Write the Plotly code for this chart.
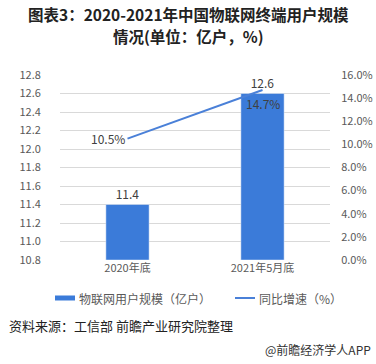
import plotly.graph_objects as go

categories = ["2020年底", "2021年5月底"]
users = [11.4, 12.6]
growth = [10.5, 14.7]
left_ticks = [10.8, 11.0, 11.2, 11.4, 11.6, 11.8, 12.0, 12.2, 12.4, 12.6, 12.8]
right_ticks = [0, 2, 4, 6, 8, 10, 12, 14, 16]

FONT = "Noto Sans CJK SC"
GRAY = "#595959"
BAR_C = "#3b7bd9"
LINE_C = "#4a80d8"
fig = go.Figure()
fig.add_trace(go.Bar(
    x=categories, y=[u - 10.8 for u in users], base=10.8,
    name="物联网用户规模（亿户）", marker_color=BAR_C, width=0.32,
    text=[f"{u:.1f}" for u in users], textposition="outside",
    textfont=dict(size=12, color="#404040", family=FONT), cliponaxis=False,
))
fig.add_trace(go.Scatter(
    x=categories, y=growth, yaxis="y2", mode="lines",
    name="同比增速（%）", line=dict(color=LINE_C, width=2), cliponaxis=False,
))
# line labels
fig.add_annotation(x=categories[0], y=growth[0], xref="x", yref="y2", text=f"{growth[0]:.1f}%",
                   showarrow=False, xanchor="right", xshift=-1, yanchor="middle",
                   font=dict(size=12, color="#404040", family=FONT))
fig.add_annotation(x=categories[1], y=growth[1], xref="x", yref="y2", text=f"{growth[1]:.1f}%",
                   showarrow=False, xanchor="center", yanchor="middle", yshift=-13,
                   font=dict(size=12, color="#404040", family=FONT))
fig.update_layout(
    width=376, height=364, margin=dict(l=60, r=46, t=75, b=104, autoexpand=False),
    paper_bgcolor="white", plot_bgcolor="white",
    font=dict(family=FONT, size=11, color=GRAY),
    showlegend=False,
    xaxis=dict(showgrid=False, showline=False, ticks="", tickfont=dict(size=11, color=GRAY), automargin=False),
    yaxis=dict(range=[10.8, 12.8], tickvals=left_ticks, ticktext=[f"{t:.1f}" for t in left_ticks],
               gridcolor="#d9d9d9", zeroline=False, tickfont=dict(size=11, color=GRAY),
               ticklen=16, tickcolor="white", ticks="outside", automargin=False),
    yaxis2=dict(range=[0, 16], overlaying="y", side="right", tickvals=right_ticks,
                ticktext=[f"{t:.1f}%" for t in right_ticks], showgrid=False, zeroline=False,
                tickfont=dict(size=11, color=GRAY), ticks="outside", ticklen=8, tickcolor="white", automargin=False),
    bargap=0.5,
)
# custom legend
PW = 270.0
def px(x):
    return (x - 60) / PW
def py(y):
    return (260 - y) / 185.0
fig.add_shape(type="rect", xref="paper", yref="paper", x0=px(55), x1=px(75), y0=py(300.5), y1=py(295.5),
              fillcolor=BAR_C, line_width=0)
fig.add_annotation(text=fig.data[0].name, xref="paper", yref="paper", x=px(77), y=py(298),
                   xanchor="left", yanchor="middle", showarrow=False,
                   font=dict(size=12, color=GRAY, family=FONT))
fig.add_shape(type="line", xref="paper", yref="paper", x0=px(235), x1=px(255), y0=py(298), y1=py(298),
              line=dict(color=LINE_C, width=2))
fig.add_annotation(text=fig.data[1].name, xref="paper", yref="paper", x=px(257), y=py(298),
                   xanchor="left", yanchor="middle", showarrow=False,
                   font=dict(size=12, color=GRAY, family=FONT))
fig.add_annotation(text="<b>图表3：2020-2021年中国物联网终端用户规模</b>",
                   xref="paper", yref="paper", x=px(188), y=py(14), yanchor="middle",
                   showarrow=False, font=dict(size=15.5, color="#222222", family=FONT))
fig.add_annotation(text="<b>情况(单位：亿户，%)</b>",
                   xref="paper", yref="paper", x=px(188), y=py(36), yanchor="middle",
                   showarrow=False, font=dict(size=15.5, color="#222222", family=FONT))
fig.add_annotation(text="资料来源：工信部 前瞻产业研究院整理", xref="paper", yref="paper",
                   xanchor="left", x=px(7), y=py(325), yanchor="middle",
                   showarrow=False, font=dict(size=13, color="#222222", family=FONT))
fig.add_annotation(text="@前瞻经济学人APP", xref="paper", yref="paper",
                   xanchor="right", x=px(373), y=py(349), yanchor="middle",
                   showarrow=False, font=dict(size=12, color="#333333", family=FONT))
fig.write_html("out.html", config={"displayModeBar": False},
               post_script="document.body.style.margin='0';document.body.style.overflow='hidden';")
